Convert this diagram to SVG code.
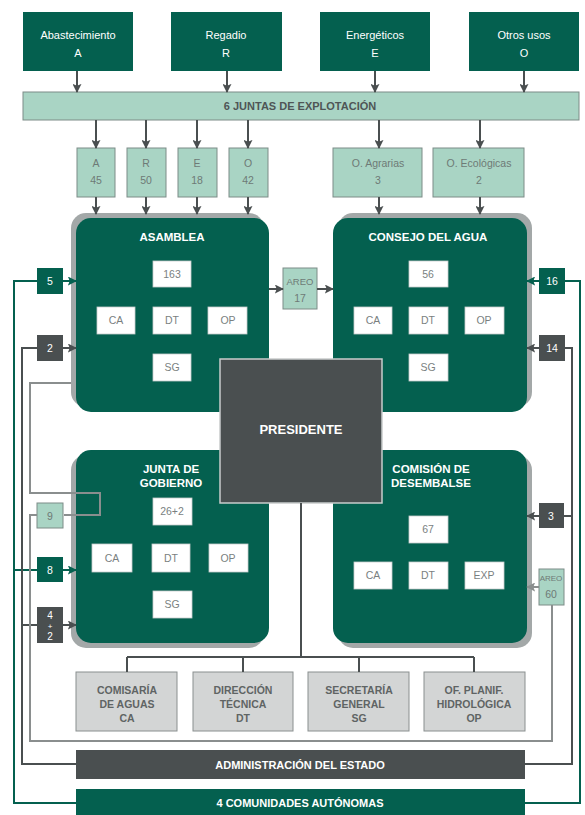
<svg xmlns="http://www.w3.org/2000/svg" width="585" height="815" viewBox="0 0 585 815">
<defs>
<style>
.t{font-family:"Liberation Sans",Arial,sans-serif;text-anchor:middle}
.top{fill:#04604f}
.topt{fill:#fff;font-size:11px}
.mint{fill:#a9d4c4;stroke:#7d8c87;stroke-width:1}
.mintt{fill:#6e7a76;font-size:10.5px}
.blk{fill:#04604f}
.shd{fill:#a3a8a8}
.bt{fill:#fff;font-size:11.5px;font-weight:bold}
.wb{fill:#fff;stroke:#c9cccc;stroke-width:0.8}
.wbt{fill:#7a7f7f;font-size:10.5px}
.dk{fill:#4a4f50}
.gb{fill:#d3d5d5;stroke:#8a8f8f;stroke-width:1}
.gbt{fill:#5f6464;font-size:10.5px;font-weight:bold}
.ln{fill:none;stroke-width:2}
.lg{stroke:#04604f}
.ld{stroke:#4a4f50}
.lgr{stroke:#8a8e8e}
</style>
<marker id="aD" viewBox="0 0 10 10" refX="9" refY="5" markerWidth="9" markerHeight="9" markerUnits="userSpaceOnUse" orient="auto"><path d="M0,0 L10,5 L0,10 L2,5 z" fill="#4a4f50"/></marker>
<marker id="aG" viewBox="0 0 10 10" refX="9" refY="5" markerWidth="9" markerHeight="9" markerUnits="userSpaceOnUse" orient="auto"><path d="M0,0 L10,5 L0,10 L2,5 z" fill="#04604f"/></marker>
<marker id="aR" viewBox="0 0 10 10" refX="9" refY="5" markerWidth="9" markerHeight="9" markerUnits="userSpaceOnUse" orient="auto"><path d="M0,0 L10,5 L0,10 L2,5 z" fill="#8a8e8e"/></marker>
</defs>
<rect width="585" height="815" fill="#fff"/>

<!-- top users -->
<g id="abastecimiento"><rect class="top" x="23" y="12" width="110" height="59"/><text class="t topt" x="78" y="39">Abastecimiento</text><text class="t topt" x="78" y="57">A</text></g>
<g id="regadio"><rect class="top" x="171" y="12" width="111" height="59"/><text class="t topt" x="226" y="39">Regadio</text><text class="t topt" x="226" y="57">R</text></g>
<g id="energeticos"><rect class="top" x="320" y="12" width="110" height="59"/><text class="t topt" x="375" y="39">Energéticos</text><text class="t topt" x="375" y="57">E</text></g>
<g id="otros"><rect class="top" x="469" y="12" width="110" height="59"/><text class="t topt" x="524" y="39">Otros usos</text><text class="t topt" x="524" y="57">O</text></g>

<g id="juntas"><rect class="mint" x="23" y="92" width="556" height="28"/><text class="t" x="300" y="110" style="fill:#4f5656;font-size:11px;font-weight:bold">6 JUNTAS DE EXPLOTACIÓN</text></g>

<g id="jA"><rect class="mint" x="77" y="148" width="38" height="49"/><text class="t mintt" x="96" y="167">A</text><text class="t mintt" x="96" y="184">45</text></g>
<g id="jR"><rect class="mint" x="127" y="148" width="39" height="49"/><text class="t mintt" x="146" y="167">R</text><text class="t mintt" x="146" y="184">50</text></g>
<g id="jE"><rect class="mint" x="178" y="148" width="39" height="49"/><text class="t mintt" x="197" y="167">E</text><text class="t mintt" x="197" y="184">18</text></g>
<g id="jO"><rect class="mint" x="229" y="148" width="39" height="49"/><text class="t mintt" x="248" y="167">O</text><text class="t mintt" x="248" y="184">42</text></g>
<g id="agrarias"><rect class="mint" x="333" y="148" width="89" height="49"/><text class="t mintt" x="378" y="167">O. Agrarias</text><text class="t mintt" x="378" y="184">3</text></g>
<g id="ecologicas"><rect class="mint" x="433" y="148" width="91" height="49"/><text class="t mintt" x="479" y="167">O. Ecológicas</text><text class="t mintt" x="479" y="184">2</text></g>

<!-- Asamblea -->
<g id="asamblea">
<rect class="shd" x="71" y="213" width="193" height="194" rx="15"/>
<rect class="blk" x="76" y="218" width="193" height="194" rx="15"/>
<text class="t bt" x="172" y="241">ASAMBLEA</text>
<rect class="wb" x="153" y="261" width="38" height="26"/><text class="t wbt" x="172" y="278">163</text>
<rect class="wb" x="97" y="307" width="38" height="27"/><text class="t wbt" x="116" y="324">CA</text>
<rect class="wb" x="153" y="307" width="38" height="27"/><text class="t wbt" x="172" y="324">DT</text>
<rect class="wb" x="208" y="307" width="39" height="27"/><text class="t wbt" x="228" y="324">OP</text>
<rect class="wb" x="153" y="354" width="38" height="27"/><text class="t wbt" x="172" y="371">SG</text>
</g>

<!-- Consejo -->
<g id="consejo">
<rect class="shd" x="338" y="213" width="194" height="194" rx="15"/>
<rect class="blk" x="333" y="218" width="194" height="194" rx="15"/>
<text class="t bt" x="428" y="241">CONSEJO DEL AGUA</text>
<rect class="wb" x="409" y="261" width="39" height="26"/><text class="t wbt" x="428" y="278">56</text>
<rect class="wb" x="354" y="307" width="38" height="27"/><text class="t wbt" x="373" y="324">CA</text>
<rect class="wb" x="409" y="307" width="39" height="27"/><text class="t wbt" x="428" y="324">DT</text>
<rect class="wb" x="465" y="307" width="39" height="27"/><text class="t wbt" x="484" y="324">OP</text>
<rect class="wb" x="409" y="354" width="39" height="27"/><text class="t wbt" x="428" y="371">SG</text>
</g>

<!-- Junta -->
<g id="junta">
<rect class="shd" x="71" y="455" width="193" height="193" rx="15"/>
<rect class="blk" x="76" y="450" width="193" height="193" rx="15"/>
<text class="t bt" x="171" y="473">JUNTA DE</text>
<text class="t bt" x="171" y="487">GOBIERNO</text>
<rect class="wb" x="153" y="498" width="39" height="27"/><text class="t wbt" x="172" y="515">26+2</text>
<rect class="wb" x="92" y="544" width="40" height="28"/><text class="t wbt" x="112" y="562">CA</text>
<rect class="wb" x="152" y="544" width="38" height="28"/><text class="t wbt" x="171" y="562">DT</text>
<rect class="wb" x="209" y="544" width="39" height="28"/><text class="t wbt" x="228" y="562">OP</text>
<rect class="wb" x="153" y="591" width="39" height="27"/><text class="t wbt" x="172" y="608">SG</text>
</g>

<!-- Comision -->
<g id="comision">
<rect class="shd" x="338" y="455" width="194" height="193" rx="15"/>
<rect class="blk" x="333" y="450" width="194" height="193" rx="15"/>
<text class="t bt" x="431" y="473">COMISIÓN DE</text>
<text class="t bt" x="431" y="487">DESEMBALSE</text>
<rect class="wb" x="409" y="516" width="39" height="27"/><text class="t wbt" x="428" y="533">67</text>
<rect class="wb" x="354" y="562" width="38" height="27"/><text class="t wbt" x="373" y="579">CA</text>
<rect class="wb" x="409" y="562" width="39" height="27"/><text class="t wbt" x="428" y="579">DT</text>
<rect class="wb" x="465" y="562" width="39" height="27"/><text class="t wbt" x="484" y="579">EXP</text>
</g>

<g id="areo17"><rect class="mint" x="283" y="268" width="34" height="41"/><text class="t mintt" x="300" y="285" style="font-size:9.5px">AREO</text><text class="t mintt" x="300" y="302">17</text></g>

<g id="presidente"><rect x="220" y="359" width="162" height="144" fill="#4a4f50" stroke="#c9cccc" stroke-width="1.5"/><text class="t" x="301" y="434" style="fill:#fff;font-size:13px;font-weight:bold">PRESIDENTE</text></g>

<!-- side boxes -->
<g id="b5"><rect class="top" x="37" y="268" width="26" height="26"/><text class="t" x="50" y="285" style="fill:#fff;font-size:10.5px">5</text></g>
<g id="b2"><rect class="dk" x="37" y="335" width="26" height="26"/><text class="t" x="50" y="352" style="fill:#fff;font-size:10.5px">2</text></g>
<g id="b9"><rect class="mint" x="37" y="503" width="26" height="25"/><text class="t mintt" x="50" y="520">9</text></g>
<g id="b8"><rect class="top" x="37" y="557" width="26" height="25"/><text class="t" x="50" y="574" style="fill:#fff;font-size:10.5px">8</text></g>
<g id="b42"><rect class="dk" x="37" y="607" width="26" height="36"/><text class="t" x="50" y="619" style="fill:#fff;font-size:10px">4</text><text class="t" x="50" y="629" style="fill:#fff;font-size:8px">+</text><text class="t" x="50" y="640" style="fill:#fff;font-size:10px">2</text></g>
<g id="b16"><rect class="top" x="539" y="268" width="26" height="26"/><text class="t" x="552" y="285" style="fill:#fff;font-size:10.5px">16</text></g>
<g id="b14"><rect class="dk" x="539" y="335" width="26" height="26"/><text class="t" x="552" y="352" style="fill:#fff;font-size:10.5px">14</text></g>
<g id="b3"><rect class="dk" x="539" y="503" width="25" height="25"/><text class="t" x="551" y="520" style="fill:#fff;font-size:10.5px">3</text></g>
<g id="areo60"><rect class="mint" x="539" y="569" width="25" height="36"/><text class="t mintt" x="551" y="581" style="font-size:8px">AREO</text><text class="t mintt" x="551" y="598">60</text></g>

<!-- bottom boxes -->
<g id="comisaria"><rect class="gb" x="76" y="672" width="101" height="59"/><text class="t gbt" x="127" y="694">COMISARÍA</text><text class="t gbt" x="127" y="708">DE AGUAS</text><text class="t gbt" x="127" y="722">CA</text></g>
<g id="direccion"><rect class="gb" x="193" y="672" width="100" height="59"/><text class="t gbt" x="243" y="694">DIRECCIÓN</text><text class="t gbt" x="243" y="708">TÉCNICA</text><text class="t gbt" x="243" y="722">DT</text></g>
<g id="secretaria"><rect class="gb" x="308" y="672" width="101" height="59"/><text class="t gbt" x="359" y="694">SECRETARÍA</text><text class="t gbt" x="359" y="708">GENERAL</text><text class="t gbt" x="359" y="722">SG</text></g>
<g id="oficina"><rect class="gb" x="424" y="672" width="101" height="59"/><text class="t gbt" x="474" y="694">OF. PLANIF.</text><text class="t gbt" x="474" y="708">HIDROLÓGICA</text><text class="t gbt" x="474" y="722">OP</text></g>

<g id="admin"><rect class="dk" x="76" y="750" width="449" height="29"/><text class="t" x="300" y="769" style="fill:#fff;font-size:11px;font-weight:bold">ADMINISTRACIÓN DEL ESTADO</text></g>
<g id="ccaa"><rect class="top" x="76" y="789" width="449" height="27"/><text class="t" x="300" y="807" style="fill:#fff;font-size:11px;font-weight:bold">4 COMUNIDADES AUTÓNOMAS</text></g>

<!-- connectors -->
<g id="connectors">
<g class="ln ld" marker-end="url(#aD)">
<path d="M77,71 V92"/><path d="M227,71 V92"/><path d="M375,71 V92"/><path d="M524,71 V92"/>
<path d="M96,120 V148"/><path d="M146,120 V148"/><path d="M197,120 V148"/><path d="M248,120 V148"/>
<path d="M379,120 V148"/><path d="M480,120 V148"/>
<path d="M96,197 V214"/><path d="M146,197 V214"/><path d="M197,197 V214"/><path d="M248,197 V214"/>
<path d="M379,197 V214"/><path d="M480,197 V214"/>
<path d="M269,289 H283"/><path d="M317,289 H333"/>
<path d="M63,348 H76"/><path d="M63,625 H76"/>
<path d="M539,348 H527"/><path d="M539,516 H527"/>
</g>
<g class="ln lg" marker-end="url(#aG)">
<path d="M63,281 H76"/><path d="M63,570 H76"/><path d="M539,281 H527"/>
</g>
<path class="ln lgr" marker-end="url(#aR)" d="M539,587 H527"/>
<g class="ln lg">
<path d="M76,803 H14 V281 H37"/><path d="M14,570 H37"/>
<path d="M525,803 H580 V281 H565"/>
</g>
<g class="ln ld">
<path d="M76,764 H22 V348 H37"/><path d="M22,625 H37"/>
<path d="M525,764 H572 V348 H565"/><path d="M572,516 H564"/>
</g>
<g class="ln lgr">
<path d="M71,383 H30 V493 H100 V515 H64"/>
<path d="M37,515 H30 V741 H552 V605"/>
</g>
<g class="ln ld">
<path d="M301,503 V657"/><path d="M127,657 H474"/>
<path d="M127,657 V672"/><path d="M243,657 V672"/><path d="M359,657 V672"/><path d="M474,657 V672"/>
</g>
</g>
</svg>
